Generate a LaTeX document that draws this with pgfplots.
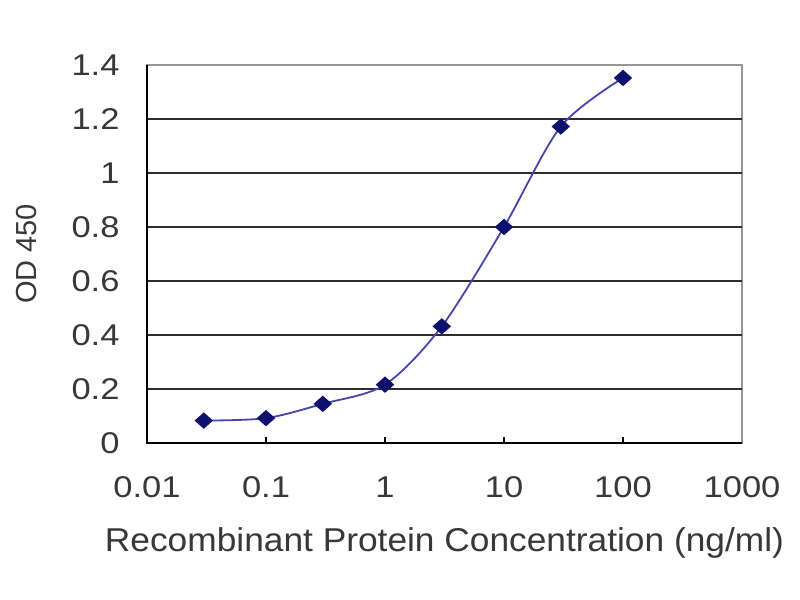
\documentclass[border=0pt]{standalone}
\usepackage{pgfplots}
\pgfplotsset{compat=1.18}
\usepackage{fontspec}
\setmainfont{Liberation Sans}
\definecolor{gridc}{RGB}{45,45,45}
\definecolor{linec}{RGB}{70,70,170}
\definecolor{markc}{RGB}{15,15,110}
\definecolor{framec}{RGB}{150,150,150}
\newcommand\sx[1]{\scalebox{1.15}[1]{#1}}
\begin{document}
\begin{tikzpicture}[x=1bp,y=1bp]
\useasboundingbox (0,0) rectangle (800,600);
\fill[white] (0,0) rectangle (800,600);
\begin{axis}[
  at={(147bp,157bp)}, anchor=south west,
  scale only axis, width=595bp, height=378bp,
  xmode=log, log basis x=10,
  xmin=0.01, xmax=1000, ymin=0, ymax=1.4,
  xtick={0.01,0.1,1,10,100,1000},
  xticklabels={\sx{0.01},\sx{0.1},\sx{1},\sx{10},\sx{100},\sx{1000}},
  xminorticks=false,
  ytick={0,0.2,0.4,0.6,0.8,1,1.2,1.4},
  yticklabels={\sx{0},\sx{0.2},\sx{0.4},\sx{0.6},\sx{0.8},\sx{1},\sx{1.2},\sx{1.4}},
  extra y ticks={0.2,0.4,0.6,0.8,1,1.2},
  extra y tick labels={},
  extra y tick style={grid=major, major tick length=0pt},
  grid style={draw=gridc, line width=2bp},
  tick label style={font=\fontsize{30bp}{34bp}\selectfont, text=black!78},
  xticklabel style={yshift=-30bp},
  yticklabel style={xshift=-24bp},
  xtick pos=bottom, ytick pos=left,
  tick align=inside, major tick length=6bp,
  tick style={draw=black, line width=1.5bp},
  axis line style={draw=framec, line width=1.5bp},
  xlabel={\scalebox{1.07}[1]{Recombinant Protein Concentration (ng/ml)}},
  xlabel style={at={(axis description cs:0.5,0)}, anchor=base, yshift=-109bp,
    font=\fontsize{33bp}{38bp}\selectfont, text=black!78},
  ylabel={OD 450},
  ylabel style={at={(axis description cs:0,0.5)}, anchor=center, yshift=120bp,
    font=\fontsize{29bp}{34bp}\selectfont, text=black!78},
  clip=false,
]
\draw[black, line width=2bp] (rel axis cs:0,1) -- (rel axis cs:0,0) -- (rel axis cs:1,0);
\addplot[color=linec, line width=1.8bp, smooth, tension=0.5,
  mark=diamond*, mark size=7bp,
  mark options={fill=markc, draw=markc, xscale=1.5}]
  coordinates {
    (0.03,0.083) (0.1,0.092) (0.3,0.145) (1,0.216)
    (3,0.432) (10,0.800) (30,1.172) (100,1.352)
  };
\end{axis}
\end{tikzpicture}
\end{document}
